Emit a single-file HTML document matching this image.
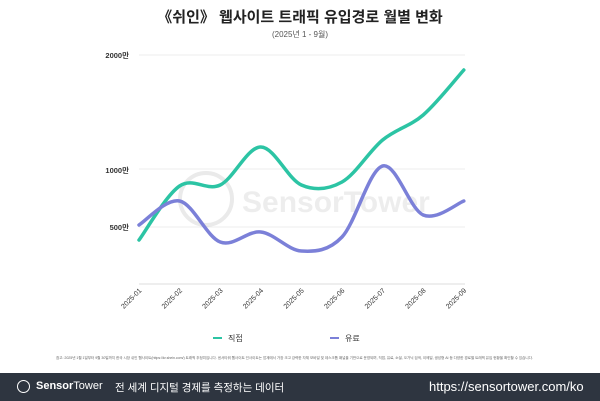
<!DOCTYPE html>
<html><head><meta charset="utf-8"><style>
body{margin:0;width:600px;height:401px;background:#fff;font-family:"Liberation Sans","Noto Sans CJK KR",sans-serif;position:relative;overflow:hidden}
.t{position:absolute;left:0;width:600px;text-align:center}
</style></head><body>
<div class="t" style="top:6px;font-size:15px;font-weight:bold;color:#222">《쉬인》 웹사이트 트래픽 유입경로 월별 변화</div>
<div class="t" style="top:29px;font-size:8px;color:#555">(2025년 1 - 9월)</div>
<svg id="s" width="600" height="401" style="position:absolute;left:0;top:0" xmlns="http://www.w3.org/2000/svg">
<g font-size="7.5" font-weight="bold" fill="#333" text-anchor="end" font-family="Liberation Sans,Noto Sans CJK KR,sans-serif">
<text x="129" y="58">2000만</text><text x="129" y="173">1000만</text><text x="129" y="230">500만</text>
</g>
<g stroke="#eee" stroke-width="1"><line x1="139" x2="465" y1="55" y2="55"/><line x1="139" x2="465" y1="169" y2="169"/><line x1="139" x2="465" y1="227" y2="227"/></g>
<line x1="139" x2="465" y1="284" y2="284" stroke="#ddd"/>
<g opacity="0.12" fill="none" stroke="#555" stroke-width="4"><circle cx="206" cy="199" r="26"/></g>
<text x="242" y="212" font-size="30" font-weight="bold" fill="#555" opacity="0.1" font-family="Liberation Sans,sans-serif">SensorTower</text>
<g id="ticks" font-size="7" fill="#333" font-family="Liberation Sans,sans-serif"></g>
<path id="g" fill="none" stroke="#2cc4a4" stroke-width="3.5" stroke-linecap="round"/>
<path id="b" fill="none" stroke="#7b80d8" stroke-width="3.5" stroke-linecap="round"/>
<line x1="213" x2="222" y1="338" y2="338" stroke="#2cc4a4" stroke-width="2"/>
<text x="228" y="341" font-size="8" fill="#333" font-family="Liberation Sans,Noto Sans CJK KR,sans-serif">직접</text>
<line x1="330" x2="339" y1="338" y2="338" stroke="#7b80d8" stroke-width="2"/>
<text x="345" y="341" font-size="8" fill="#333" font-family="Liberation Sans,Noto Sans CJK KR,sans-serif">유료</text>
</svg>
<div style="position:absolute;left:56px;top:355px;width:495px;font-size:3.6px;line-height:7px;color:#666;letter-spacing:-0.05px">참고: 2025년 1월 1일부터 9월 30일까지 한국 시장 쉬인 웹사이트(https://kr.shein.com/) 트래픽 추정치입니다. 센서타워 웹사이트 인사이트는 업계에서 가장 크고 강력한 자체 모바일 및 데스크톱 패널을 기반으로 운영되며, 직접, 유료, 소셜, 오가닉 검색, 이메일, 생성형 AI 등 다양한 경로별 트래픽 유입 현황을 확인할 수 있습니다.</div>
<div style="position:absolute;left:0;top:373px;width:600px;height:28px;background:#2e3540;color:#fff">
<div style="position:absolute;left:17px;top:7px;width:11px;height:11px;border:1.5px solid #fff;border-radius:50%"></div>
<div style="position:absolute;left:36px;top:7px;font-size:11px"><b>Sensor</b>Tower</div>
<div style="position:absolute;left:115px;top:7px;font-size:10.5px">전 세계 디지털 경제를 측정하는 데이터</div>
<div style="position:absolute;left:429px;top:6px;font-size:13px">https://sensortower.com/ko</div>
</div>
<script>
const xs=[];for(let i=0;i<9;i++)xs.push(139+i*40.6);
const G=[240,186,185,147,185,182,140,115,70],B=[225,201,242,232,251,237,166,215,201];
function p(Y){let d="M"+xs[0]+","+Y[0];for(let i=0;i<8;i++){const x0=xs[i-1]??xs[i],y0=Y[i-1]??Y[i],x3=xs[i+2]??xs[i+1],y3=Y[i+2]??Y[i+1];
d+=` C${xs[i]+(xs[i+1]-x0)/6},${Y[i]+(Y[i+1]-y0)/6} ${xs[i+1]-(x3-xs[i])/6},${Y[i+1]-(y3-Y[i])/6} ${xs[i+1]},${Y[i+1]}`;}return d;}
document.getElementById("g").setAttribute("d",p(G));document.getElementById("b").setAttribute("d",p(B));
let t="";xs.forEach((x,i)=>{t+=`<text transform="translate(${x+3},${291}) rotate(-45)" text-anchor="end">2025-0${i+1}</text>`});
document.getElementById("ticks").innerHTML=t;
</script>
</body></html>
